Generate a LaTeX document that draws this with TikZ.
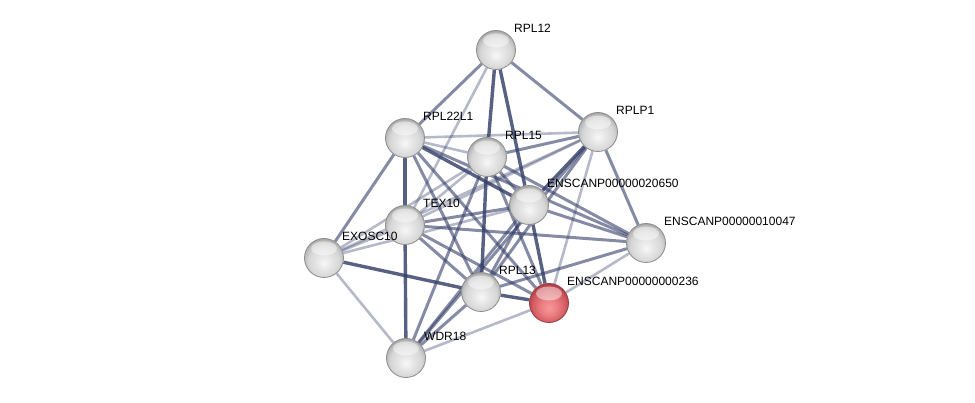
\documentclass[tikz,border=0pt]{standalone}
\usepackage{fontspec}
\setmainfont{Liberation Sans}
\usetikzlibrary{backgrounds}
\definecolor{stedge}{RGB}{52,62,104}
\definecolor{strim}{RGB}{140,140,140}
\definecolor{stredrim}{RGB}{150,60,65}
\pgfdeclareradialshading{stgrey}{\pgfpoint{0bp}{-7bp}}{%
  color(0bp)=(white!97!black); color(10bp)=(white!90!black);
  color(20bp)=(white!84!black); color(26bp)=(white!72!black);
  color(31bp)=(white!55!black); color(50bp)=(white!55!black)}
\pgfdeclareradialshading{stpink}{\pgfpoint{0bp}{-7bp}}{%
  color(0bp)=(rgb,255:red,246;green,150;blue,152); color(10bp)=(rgb,255:red,236;green,128;blue,132);
  color(20bp)=(rgb,255:red,214;green,96;blue,102); color(26bp)=(rgb,255:red,190;green,70;blue,78);
  color(31bp)=(rgb,255:red,150;green,50;blue,55); color(50bp)=(rgb,255:red,150;green,50;blue,55)}
\tikzset{
  stnode/.style={circle, minimum size=39pt, inner sep=0pt, draw=strim, line width=.8pt, shading=stgrey,
    path picture={\fill[white, opacity=.45] ([yshift=-10pt]path picture bounding box.north) ellipse (13pt and 7pt);}},
  stquery/.style={stnode, shading=stpink, draw=stredrim},
  stlabel/.style={anchor=west, font=\fontsize{12}{12}\selectfont, inner sep=0pt, xshift=18pt, yshift=22pt},
  eweak/.style={draw=stedge, line width=2.6pt, draw opacity=.36},
  emid/.style={draw=stedge, line width=3pt, draw opacity=.6},
  estrong/.style={draw=stedge, line width=3.4pt, draw opacity=.82}
}
\begin{document}
\begin{tikzpicture}[x=1pt, y=-1pt]
  \useasboundingbox (0,0) rectangle (975,403);
  \node[stnode] (rpl12) at (496,50) {};
  \node[stnode] (rplp1) at (598,132) {};
  \node[stnode] (rpl22l1) at (405,138) {};
  \node[stnode] (rpl15) at (487,157) {};
  \node[stnode] (enscanp20650) at (529,205) {};
  \node[stnode] (tex10) at (405,225) {};
  \node[stnode] (exosc10) at (324,258) {};
  \node[stnode] (enscanp10047) at (646,243) {};
  \node[stnode] (rpl13) at (481,292) {};
  \node[stquery] (enscanp236) at (549,303) {};
  \node[stnode] (wdr18) at (406,358) {};
  \node[stlabel] (rpl12t) at (rpl12) {RPL12};
  \node[stlabel] (rplp1t) at (rplp1) {RPLP1};
  \node[stlabel] (rpl22l1t) at (rpl22l1) {RPL22L1};
  \node[stlabel] (rpl15t) at (rpl15) {RPL15};
  \node[stlabel] (enscanp20650t) at (enscanp20650) {ENSCANP00000020650};
  \node[stlabel] (tex10t) at (tex10) {TEX10};
  \node[stlabel] (exosc10t) at (exosc10) {EXOSC10};
  \node[stlabel] (enscanp10047t) at (enscanp10047) {ENSCANP00000010047};
  \node[stlabel] (rpl13t) at (rpl13) {RPL13};
  \node[stlabel] (enscanp236t) at (enscanp236) {ENSCANP00000000236};
  \node[stlabel] (wdr18t) at (wdr18) {WDR18};
  \begin{scope}[on background layer]
    \draw[emid] (rpl12) -- (rpl22l1);
    \draw[eweak] (rpl12) -- (tex10);
    \draw[estrong] (rpl12) -- (rpl15);
    \draw[estrong] (rpl12) -- (enscanp20650);
    \draw[emid] (rpl12) -- (rplp1);
    \draw[eweak] (rplp1) -- (rpl22l1);
    \draw[emid] (rplp1) -- (rpl15);
    \draw[estrong] (rplp1) -- (enscanp20650);
    \draw[emid] (rplp1) -- (rpl13);
    \draw[eweak] (rplp1) -- (tex10);
    \draw[eweak] (rplp1) -- (exosc10);
    \draw[emid] (rplp1) -- (enscanp10047);
    \draw[eweak] (rplp1) -- (enscanp236);
    \draw[emid] (rplp1) -- (wdr18);
    \draw[eweak] (rpl22l1) -- (rpl15);
    \draw[estrong] (rpl22l1) -- (tex10);
    \draw[emid] (rpl22l1) -- (exosc10);
    \draw[estrong] (rpl22l1) -- (enscanp20650);
    \draw[emid] (rpl22l1) -- (rpl13);
    \draw[emid] (rpl22l1) -- (enscanp236);
    \draw[emid] (rpl22l1) -- (enscanp10047);
    \draw[emid] (rpl15) -- (enscanp20650);
    \draw[eweak] (rpl15) -- (tex10);
    \draw[eweak] (rpl15) -- (exosc10);
    \draw[estrong] (rpl15) -- (rpl13);
    \draw[emid] (rpl15) -- (enscanp236);
    \draw[emid] (rpl15) -- (enscanp10047);
    \draw[emid] (rpl15) -- (wdr18);
    \draw[emid] (enscanp20650) -- (tex10);
    \draw[eweak] (enscanp20650) -- (exosc10);
    \draw[emid] (enscanp20650) -- (rpl13);
    \draw[estrong] (enscanp20650) -- (enscanp236);
    \draw[emid] (enscanp20650) -- (enscanp10047);
    \draw[emid] (enscanp20650) -- (wdr18);
    \draw[eweak] (tex10) -- (exosc10);
    \draw[estrong] (tex10) -- (wdr18);
    \draw[emid] (tex10) -- (rpl13);
    \draw[emid] (tex10) -- (enscanp10047);
    \draw[emid] (tex10) -- (enscanp236);
    \draw[estrong] (exosc10) -- (rpl13);
    \draw[eweak] (exosc10) -- (wdr18);
    \draw[emid] (enscanp10047) -- (rpl13);
    \draw[eweak] (enscanp10047) -- (enscanp236);
    \draw[estrong] (rpl13) -- (enscanp236);
    \draw[emid] (rpl13) -- (wdr18);
    \draw[eweak] (enscanp236) -- (wdr18);
  \end{scope}
\end{tikzpicture}
\end{document}
